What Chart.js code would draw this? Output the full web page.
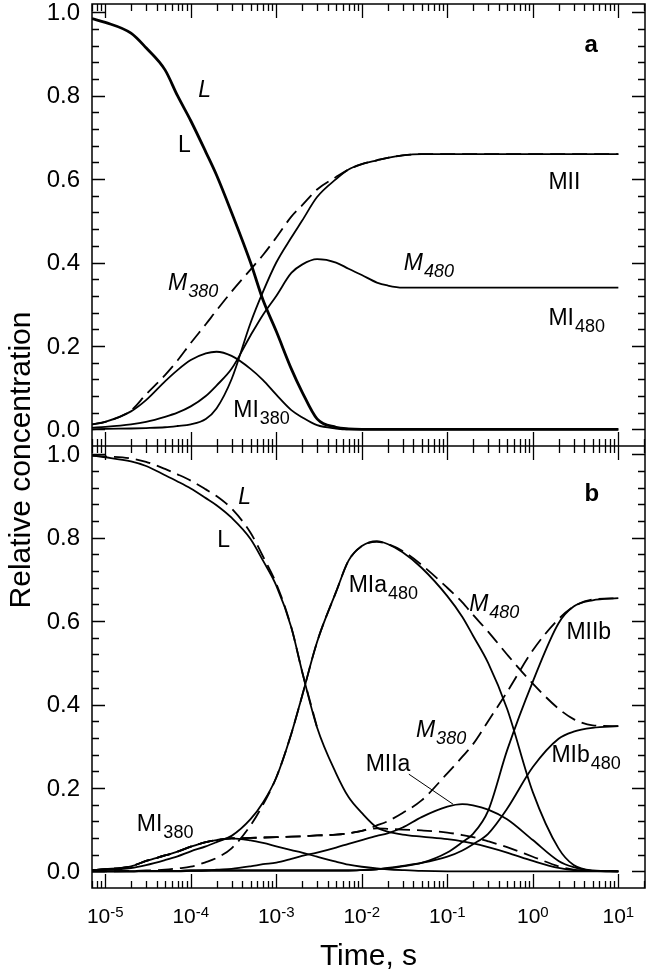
<!DOCTYPE html>
<html>
<head>
<meta charset="utf-8">
<script src="https://cdn.jsdelivr.net/npm/chart.js@4/dist/chart.umd.min.js"></script>
<style>
  body { margin: 0; background: #fff; }
  #wrap { width: 647px; height: 977px; position: relative; }
</style>
</head>
<body>
<div id="wrap"><canvas id="chart"></canvas></div>
<script>
// sampling times, s
const times = [7e-6, 1e-5, 2e-5, 3e-5, 5e-5, 7e-5, 1e-4, 1.5e-4, 2e-4, 3e-4, 5e-4, 7e-4,
  1e-3, 1.5e-3, 2e-3, 3e-3, 5e-3, 7e-3, 1e-2, 1.5e-2, 2e-2, 3e-2, 5e-2, 0.1, 0.15, 0.2,
  0.3, 0.5, 1, 2, 3, 5, 10];

// panel a
const aL     = [0.985, 0.976, 0.95, 0.915, 0.862, 0.80, 0.74, 0.665, 0.61, 0.52, 0.40, 0.31,
  0.235, 0.145, 0.09, 0.025, 0.005, 0.001, 0, 0, 0, 0, 0, 0, 0, 0, 0, 0, 0, 0, 0, 0, 0];
const aMI380 = [0.012, 0.018, 0.043, 0.07, 0.115, 0.142, 0.166, 0.182, 0.186, 0.176, 0.145, 0.118,
  0.083, 0.046, 0.029, 0.01, 0.002, 0, 0, 0, 0, 0, 0, 0, 0, 0, 0, 0, 0, 0, 0, 0, 0];
const aM380  = [0.012, 0.018, 0.045, 0.084, 0.13, 0.165, 0.207, 0.252, 0.285, 0.33, 0.383, 0.418,
  0.46, 0.51, 0.537, 0.575, 0.605, 0.623, 0.636, 0.645, 0.651, 0.657, 0.66, 0.66, 0.66, 0.66,
  0.66, 0.66, 0.66, 0.66, 0.66, 0.66, 0.66];
const aMII   = [0, 0.001, 0.002, 0.003, 0.005, 0.008, 0.012, 0.025, 0.05, 0.12, 0.255, 0.33,
  0.40, 0.46, 0.50, 0.557, 0.60, 0.623, 0.636, 0.645, 0.651, 0.657, 0.66, 0.66, 0.66, 0.66,
  0.66, 0.66, 0.66, 0.66, 0.66, 0.66, 0.66];
const aM480  = [0.004, 0.006, 0.012, 0.018, 0.03, 0.04, 0.055, 0.08, 0.105, 0.145, 0.225, 0.275,
  0.32, 0.375, 0.395, 0.408, 0.40, 0.385, 0.37, 0.352, 0.345, 0.34, 0.34, 0.34, 0.34, 0.34,
  0.34, 0.34, 0.34, 0.34, 0.34, 0.34, 0.34];

// panel b
const bL      = [0.997, 0.993, 0.983, 0.972, 0.95, 0.935, 0.918, 0.895, 0.878, 0.848, 0.797, 0.745,
  0.685, 0.585, 0.48, 0.345, 0.235, 0.178, 0.14, 0.105, 0.095, 0.088, 0.083, 0.077, 0.072, 0.067,
  0.058, 0.045, 0.025, 0.008, 0.003, 0.001, 0];
const bLdash  = [0.997, 0.995, 0.99, 0.982, 0.965, 0.952, 0.937, 0.916, 0.9, 0.87, 0.812, 0.755,
  0.69, 0.585, 0.48, 0.345, null, null, null, null, null, null, null, null, null, null,
  null, null, null, null, null, null, null];
const bMI380  = [0.003, 0.005, 0.012, 0.025, 0.038, 0.047, 0.059, 0.07, 0.075, 0.079, 0.074, 0.068,
  0.06, 0.051, 0.045, 0.035, 0.023, 0.016, 0.011, 0.007, 0.005, 0.003, 0.001, 0, 0, 0,
  0, 0, 0, 0, 0, 0, 0];
const bMIa480 = [0.002, 0.003, 0.008, 0.015, 0.027, 0.036, 0.048, 0.06, 0.07, 0.085, 0.125, 0.165,
  0.225, 0.33, 0.42, 0.55, 0.67, 0.745, 0.78, 0.792, 0.785, 0.765, 0.728, 0.66, 0.61, 0.565,
  0.50, 0.39, 0.19, 0.055, 0.015, 0.002, 0];
const bM480   = [0, 0, 0.001, 0.002, 0.004, 0.007, 0.011, 0.022, 0.032, 0.055, 0.11, 0.16,
  0.225, 0.33, 0.42, 0.55, 0.67, 0.745, 0.78, 0.79, 0.785, 0.768, 0.735, 0.68, 0.645, 0.615,
  0.575, 0.52, 0.45, 0.39, 0.365, 0.35, 0.348];
const bM380   = [0.003, 0.005, 0.012, 0.025, 0.038, 0.047, 0.059, 0.07, 0.075, 0.079, 0.08, 0.081,
  0.082, 0.083, 0.084, 0.086, 0.088, 0.091, 0.097, 0.11, 0.12, 0.14, 0.17, 0.235, 0.275, 0.305,
  0.36, 0.43, 0.53, 0.605, 0.635, 0.652, 0.655];
const bTail   = [0.003, 0.005, 0.012, 0.025, 0.038, 0.047, 0.059, 0.07, 0.075, 0.079, 0.08, 0.081,
  0.082, 0.083, 0.084, 0.086, 0.088, 0.091, 0.097, 0.103, 0.102, 0.1, 0.098, 0.093, 0.087, 0.082,
  0.072, 0.058, 0.035, 0.012, 0.004, 0.001, 0];
const bMIIa   = [0, 0, 0, 0, 0, 0, 0.001, 0.002, 0.004, 0.006, 0.012, 0.017,
  0.021, 0.03, 0.037, 0.045, 0.057, 0.066, 0.075, 0.085, 0.091, 0.105, 0.13, 0.155, 0.161, 0.158,
  0.148, 0.125, 0.075, 0.025, 0.01, 0.001, 0];
const bMIIb   = [0, 0, 0, 0.001, 0.001, 0.001, 0.002, 0.002, 0.002, 0.002, 0.002, 0.002,
  0.002, 0.002, 0.002, 0.002, 0.002, 0.002, 0.003, 0.005, 0.007, 0.012, 0.02, 0.045, 0.07, 0.09,
  0.145, 0.29, 0.455, 0.595, 0.635, 0.65, 0.655];
const bMIb480 = [0, 0, 0, 0.001, 0.001, 0.001, 0.002, 0.002, 0.002, 0.002, 0.002, 0.002,
  0.002, 0.002, 0.002, 0.002, 0.002, 0.002, 0.003, 0.005, 0.008, 0.013, 0.02, 0.035, 0.05, 0.065,
  0.09, 0.15, 0.25, 0.318, 0.335, 0.344, 0.348];

// curve labels: text, subscript, time, value, style
const labelsA = [
  ['L', '', 1.22e-4, 0.796, 'italic'],
  ['L', '', 7.1e-5, 0.666, 'normal'],
  ['MII', '', 1.52, 0.577, 'normal'],
  ['M', '380', 5.42e-5, 0.334, 'italic'],
  ['MI', '380', 3.14e-4, 0.029, 'normal'],
  ['M', '480', 0.031, 0.382, 'italic'],
  ['MI', '480', 1.52, 0.25, 'normal'],
  ['a', '', 4.02, 0.906, 'bold']
];
const labelsB = [
  ['L', '', 3.59e-4, 0.88, 'italic'],
  ['L', '', 2.04e-4, 0.777, 'normal'],
  ['b', '', 4.02, 0.887, 'bold'],
  ['MIa', '480', 7.02e-3, 0.669, 'normal'],
  ['M', '480', 0.18, 0.624, 'italic'],
  ['MIIb', '', 2.47, 0.556, 'normal'],
  ['M', '380', 0.043, 0.321, 'italic'],
  ['MIIa', '', 0.0111, 0.24, 'normal'],
  ['MIb', '480', 1.65, 0.261, 'normal'],
  ['MI', '380', 2.34e-5, 0.096, 'normal']
];
const leaderB = [[0.0355, 0.233], [0.1167, 0.161]];

const yTicks = [0, 0.2, 0.4, 0.6, 0.8, 1.0];
const xDecades = [-5, -4, -3, -2, -1, 0, 1];

const FONT = '"Liberation Sans", Arial, sans-serif';

function line(values, axis, dashed, width) {
  return {
    data: times.map((t, i) => ({ x: t, y: values[i] })),
    yAxisID: axis,
    borderColor: '#000',
    borderWidth: width || 1.8,
    borderDash: dashed ? [15, 7] : [],
    pointRadius: 0,
    fill: false,
    cubicInterpolationMode: 'monotone',
    spanGaps: false
  };
}

function drawText(ctx, x, y, main, sub, style) {
  const st = style === 'bold' ? 'bold' : style === 'italic' ? 'italic' : 'normal';
  ctx.font = st + ' ' + (style === 'bold' ? 24 : 23) + 'px ' + FONT;
  ctx.fillText(main, x, y);
  if (sub) {
    const w = ctx.measureText(main).width;
    ctx.font = st + ' 18px ' + FONT;
    ctx.fillText(sub, x + w + 1, y + 7);
  }
}

const framePlugin = {
  id: 'frame',
  afterDatasetsDraw(chart) {
    const ctx = chart.ctx;
    const xs = chart.scales.x;
    const panels = [chart.scales.yA, chart.scales.yB];
    const left = xs.left, right = xs.right;
    const top = Math.min(panels[0].top, panels[1].top);
    const bottom = Math.max(panels[0].bottom, panels[1].bottom);
    const mid = panels[0].bottom;
    ctx.save();
    ctx.strokeStyle = '#000';
    ctx.fillStyle = '#000';
    ctx.lineWidth = 1.5;
    ctx.strokeRect(left, top, right - left, bottom - top);
    ctx.beginPath();
    ctx.moveTo(left, mid);
    ctx.lineTo(right, mid);
    ctx.stroke();

    // x ticks
    ctx.lineWidth = 1.3;
    ctx.beginPath();
    for (let d = -6; d <= 1; d++) {
      for (let m = 1; m <= 9; m++) {
        const t = m * Math.pow(10, d);
        if (t < xs.min || t > xs.max) continue;
        const px = Math.round(xs.getPixelForValue(t)) + 0.5;
        const len = m === 1 ? 14 : 7;
        ctx.moveTo(px, top); ctx.lineTo(px, top + len);
        ctx.moveTo(px, mid - len); ctx.lineTo(px, mid + len);
        ctx.moveTo(px, bottom); ctx.lineTo(px, bottom - len);
      }
    }
    // y ticks
    panels.forEach(ys => {
      for (let k = 0; k <= 25; k++) {
        const v = k * 0.04;
        const py = Math.round(ys.getPixelForValue(v)) + 0.5;
        const len = k % 5 === 0 ? 13 : 7;
        ctx.moveTo(left, py); ctx.lineTo(left + len, py);
        ctx.moveTo(right, py); ctx.lineTo(right - len, py);
      }
    });
    ctx.stroke();

    // y tick labels
    ctx.font = '24px ' + FONT;
    ctx.textAlign = 'right';
    ctx.textBaseline = 'middle';
    panels.forEach(ys => {
      yTicks.forEach(v => {
        ctx.fillText(v.toFixed(1), left - 12, ys.getPixelForValue(v) + 1);
      });
    });

    // x tick labels with superscript exponent
    ctx.textAlign = 'left';
    ctx.textBaseline = 'alphabetic';
    xDecades.forEach(d => {
      const px = xs.getPixelForValue(Math.pow(10, d));
      ctx.font = '21px ' + FONT;
      const w1 = ctx.measureText('10').width;
      ctx.font = '15px ' + FONT;
      const w2 = ctx.measureText(String(d)).width;
      const x0 = px - (w1 + w2) / 2;
      ctx.font = '21px ' + FONT;
      ctx.fillText('10', x0, bottom + 35);
      ctx.font = '15px ' + FONT;
      ctx.fillText(String(d), x0 + w1, bottom + 29);
    });

    // axis titles
    ctx.font = '30px ' + FONT;
    ctx.textAlign = 'center';
    ctx.fillText('Time, s', (left + right) / 2, bottom + 77);
    ctx.save();
    ctx.translate(30, (top + bottom) / 2 + 14);
    ctx.rotate(-Math.PI / 2);
    ctx.fillText('Relative concentration', 0, 0);
    ctx.restore();

    // curve labels
    ctx.textAlign = 'left';
    [[labelsA, panels[0]], [labelsB, panels[1]]].forEach(([list, ys]) => {
      list.forEach(([main, sub, t, v, style]) => {
        drawText(ctx, xs.getPixelForValue(t), ys.getPixelForValue(v), main, sub, style);
      });
    });
    ctx.lineWidth = 1;
    ctx.beginPath();
    ctx.moveTo(xs.getPixelForValue(leaderB[0][0]), panels[1].getPixelForValue(leaderB[0][1]));
    ctx.lineTo(xs.getPixelForValue(leaderB[1][0]), panels[1].getPixelForValue(leaderB[1][1]));
    ctx.stroke();
    ctx.restore();
  }
};

new Chart(document.getElementById('chart'), {
  type: 'line',
  data: {
    datasets: [
      line(aL, 'yA', false, 2.8),
      line(aMI380, 'yA', false),
      line(aM380, 'yA', true),
      line(aMII, 'yA', false),
      line(aM480, 'yA', false),
      line(bL, 'yB', false),
      line(bLdash, 'yB', true),
      line(bMI380, 'yB', false),
      line(bMIa480, 'yB', false),
      line(bM480, 'yB', true),
      line(bM380, 'yB', true),
      line(bTail, 'yB', true),
      line(bMIIa, 'yB', false),
      line(bMIIb, 'yB', false),
      line(bMIb480, 'yB', false)
    ]
  },
  options: {
    responsive: true,
    maintainAspectRatio: false,
    animation: false,
    layout: { padding: { left: 92, right: 2, top: 4, bottom: 89 } },
    plugins: { legend: { display: false }, tooltip: { enabled: false } },
    scales: {
      x: { type: 'logarithmic', min: 7e-6, max: 20.5, display: false },
      yB: { axis: 'y', type: 'linear', min: -0.04, max: 1.02, display: false, stack: 'panels', stackWeight: 1 },
      yA: { axis: 'y', type: 'linear', min: -0.04, max: 1.02, display: false, stack: 'panels', stackWeight: 1 }
    }
  },
  plugins: [framePlugin]
});
</script>
</body>
</html>
